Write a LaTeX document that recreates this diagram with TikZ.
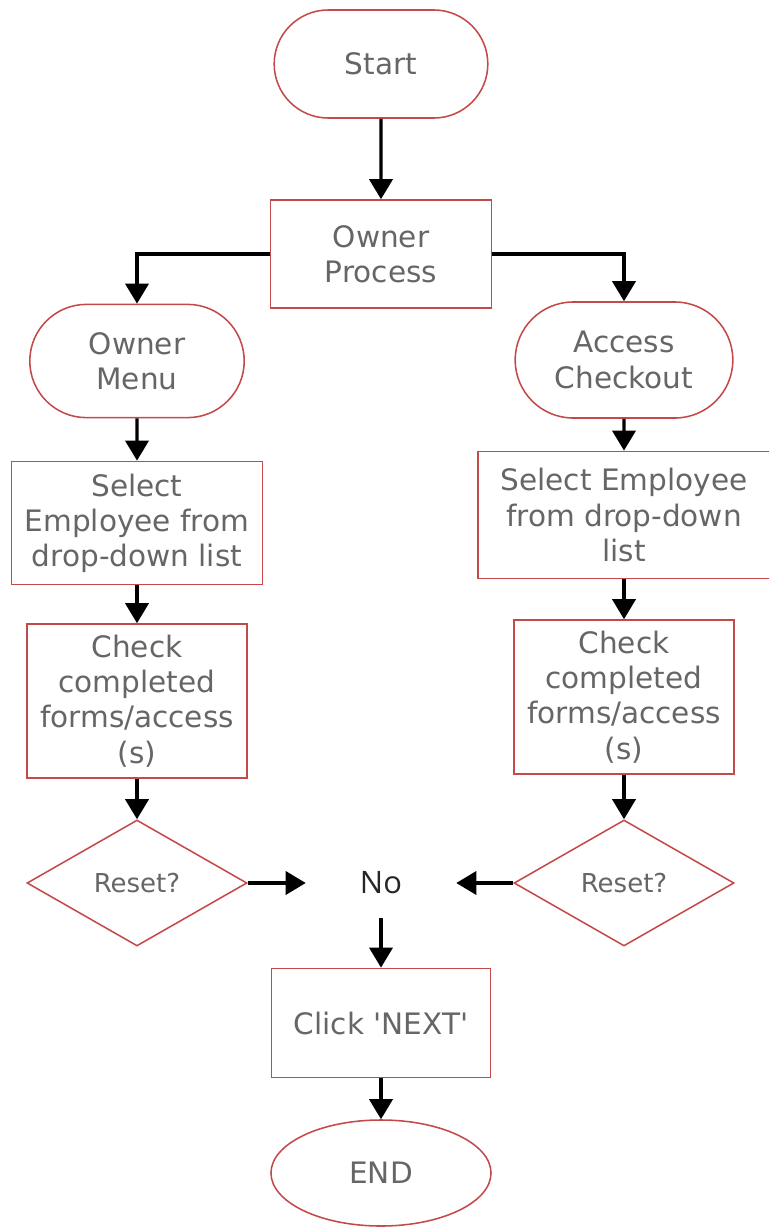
\documentclass[tikz,border=0pt]{standalone}
\usepackage{fontspec}
\setmainfont{DejaVu Sans}
\newfontfamily\nofont{Open Sans}
\usepackage{xcolor}
\usetikzlibrary{arrows.meta, shapes.geometric, shapes.misc}
\definecolor{boxred}{RGB}{196,74,74}
\definecolor{txtgray}{RGB}{102,102,102}

\begin{document}
\begin{tikzpicture}[x=0.025cm, y=-0.025cm,
  font=\fontsize{21}{25}\selectfont, text=txtgray,
  box/.style={draw=boxred, line width=1.1pt, align=center, inner sep=2pt},
  term/.style={box, rounded rectangle},
  decision/.style={box, diamond, minimum width=5.5cm, minimum height=3.15cm, font=\fontsize{18.5}{22}\selectfont},
  flow/.style={line width=2.2pt, -{Triangle[width=0.58cm, length=0.5cm]}}]
  % x, y = pixel position in the 769 x 1231 original, y downward
  \useasboundingbox (0,0) rectangle (769,1231);
  \node[term, minimum width=5.48cm, minimum height=2.7cm] (start) at (381,64) {Start};
  \node[box, minimum width=5.53cm, minimum height=2.7cm] (owner) at (381,254) {Owner\\Process};
  \node[term, minimum width=5.5cm, minimum height=2.83cm] (menu) at (137,361) {Owner\\Menu};
  \node[term, minimum width=5.58cm, minimum height=2.9cm] (checkout) at (624,360) {Access\\Checkout};
  \node[box, minimum width=6.28cm, minimum height=3.08cm] (selL) at (137,523) {Select\\Employee from\\drop-down list};
  \node[box, minimum width=7.3cm, minimum height=3.18cm] (selR) at (624,515) {Select Employee\\from drop-down\\list};
  \node[box, minimum width=5.5cm, minimum height=3.85cm] (chkL) at (137,701) {Check\\completed\\forms/access\\(s)};
  \node[box, minimum width=5.5cm, minimum height=3.85cm] (chkR) at (624,697) {Check\\completed\\forms/access\\(s)};
  \node[decision] (resetL) at (137,883) {Reset?};
  \node[decision] (resetR) at (624,883) {Reset?};
  \node[minimum width=3.75cm, minimum height=1.75cm, text=black!85, font=\nofont\fontsize{22}{26}\selectfont] (no) at (381,883) {No};
  \node[box, minimum width=5.48cm, minimum height=2.73cm] (next) at (381,1023) {Click \textquotesingle NEXT\textquotesingle};
  \node[box, ellipse, minimum width=5.5cm, minimum height=2.65cm] (end) at (381,1173) {END};

  \draw[flow] (start) -- (owner);
  \draw[flow] (owner.west) -| (menu.north);
  \draw[flow] (owner.east) -| (checkout.north);
  \draw[flow] (menu) -- (selL);
  \draw[flow] (checkout) -- (selR);
  \draw[flow] (selL) -- (chkL);
  \draw[flow] (selR) -- (chkR);
  \draw[flow] (chkL) -- (resetL);
  \draw[flow] (chkR) -- (resetR);
  \draw[flow] (resetL) -- (no);
  \draw[flow] (resetR) -- (no);
  \draw[flow] (no) -- (next);
  \draw[flow] (next) -- (end);
\end{tikzpicture}
\end{document}
